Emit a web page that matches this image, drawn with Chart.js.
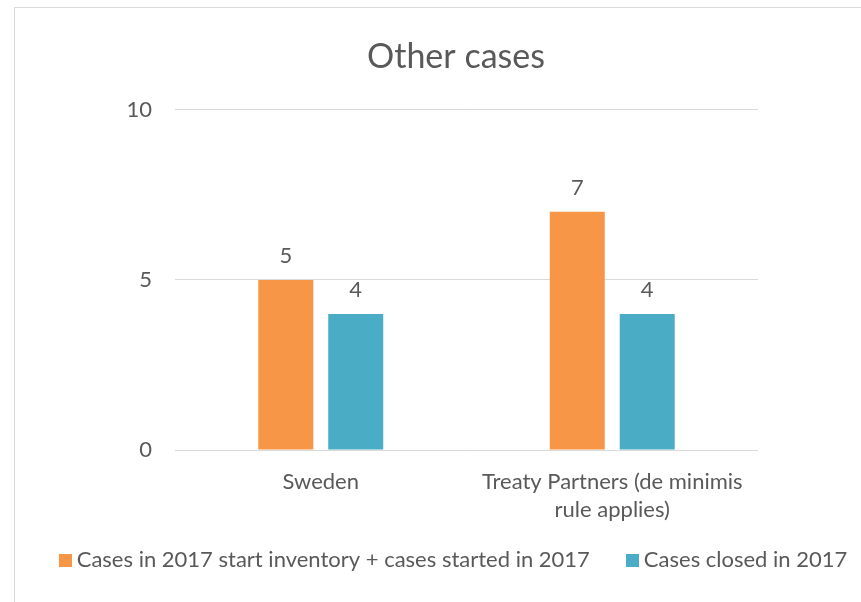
<!DOCTYPE html>
<html>
<head>
<meta charset="utf-8">
<script src="https://cdn.jsdelivr.net/npm/chart.js@4.4.1/dist/chart.umd.min.js"></script>
<style>
  html, body { margin: 0; padding: 0; background: #fff; overflow: hidden; }
  #wrap { position: relative; width: 912px; height: 602px; }
  #frame { position: absolute; left: 14px; top: 7px; width: 900px; height: 700px; border: 1px solid #d9d9d9; pointer-events: none; }
</style>
</head>
<body>
<div id="wrap">
  <div id="frame"></div>
  <canvas id="otherCases" width="912" height="602"></canvas>
</div>
<script>
const categories = ['Sweden', ['Treaty Partners (de minimis', 'rule applies)']];
const startedCases = [5, 7];
const closedCases = [4, 4];
const seriesNames = ['Cases in 2017 start inventory + cases started in 2017', 'Cases closed in 2017'];
const seriesColors = ['#F79646', '#4BACC6'];
const yTicks = [0, 5, 10];

const textColor = '#595959';
const fontFamily = 'Lato, "Open Sans", sans-serif';

// small square swatches for the legend (keeps the text close to the box)
function swatch(color) {
    const c = document.createElement('canvas');
    c.width = 13;
    c.height = 13;
    const g = c.getContext('2d');
    g.fillStyle = color;
    g.fillRect(0, 0, 13, 13);
    return c;
}
const swatches = seriesColors.map(swatch);

// labels above each bar
const valueLabels = {
    id: 'valueLabels',
    afterDatasetsDraw(chart) {
        const ctx = chart.ctx;
        ctx.save();
        ctx.fillStyle = textColor;
        ctx.font = `22px ${fontFamily}`;
        ctx.textAlign = 'center';
        ctx.textBaseline = 'middle';
        chart.data.datasets.forEach((ds, i) => {
            chart.getDatasetMeta(i).data.forEach((bar, j) => {
                ctx.fillText(ds.data[j], bar.x, bar.y - 24);
            });
        });
        ctx.restore();
    }
};

const ctx = document.getElementById('otherCases').getContext('2d');
new Chart(ctx, {
    type: 'bar',
    data: {
        labels: categories,
        datasets: [
            { label: seriesNames[0], data: startedCases, backgroundColor: seriesColors[0], categoryPercentage: 0.48, barPercentage: 0.786 },
            { label: seriesNames[1], data: closedCases, backgroundColor: seriesColors[1], categoryPercentage: 0.48, barPercentage: 0.786 }
        ]
    },
    options: {
        responsive: false,
        animation: false,
        layout: { padding: { top: 0, bottom: 21, left: 0, right: 0 } },
        plugins: {
            title: {
                display: true,
                text: 'Other cases',
                color: textColor,
                font: { family: fontFamily, size: 34, weight: 'normal' },
                padding: { top: 37, bottom: 32 }
            },
            legend: {
                position: 'bottom',
                labels: {
                    color: textColor,
                    font: { family: fontFamily, size: 22 },
                    usePointStyle: true,
                    pointStyleWidth: 1,
                    boxHeight: 13,
                    padding: 42,
                    generateLabels: chart => {
                        const items = Chart.defaults.plugins.legend.labels.generateLabels(chart);
                        items.forEach((it, i) => { it.pointStyle = swatches[i]; });
                        return items;
                    }
                }
            },
            tooltip: { enabled: false }
        },
        scales: {
            x: {
                grid: { display: false },
                border: { display: false },
                ticks: {
                    color: textColor,
                    font: { family: fontFamily, size: 22, lineHeight: 1.27 },
                    padding: 10,
                    maxRotation: 0,
                    autoSkip: false
                },
                afterFit: s => {
                    s.height = 57;
                    // let the second label line run past the axis box
                    s._computeLabelArea = () => undefined;
                }
            },
            y: {
                min: 0,
                max: 10,
                afterBuildTicks: s => { s.ticks = yTicks.map(v => ({ value: v })); },
                grid: { color: '#d9d9d9', lineWidth: 1, drawTicks: false },
                border: { display: false },
                ticks: {
                    color: textColor,
                    font: { family: fontFamily, size: 22 },
                    padding: 23
                },
                afterFit: s => { s.width = 175; }
            },
            y2: {
                position: 'right',
                grid: { display: false },
                border: { display: false },
                ticks: { display: false },
                afterFit: s => { s.width = 154; }
            }
        }
    },
    plugins: [valueLabels]
});
</script>
</body>
</html>
